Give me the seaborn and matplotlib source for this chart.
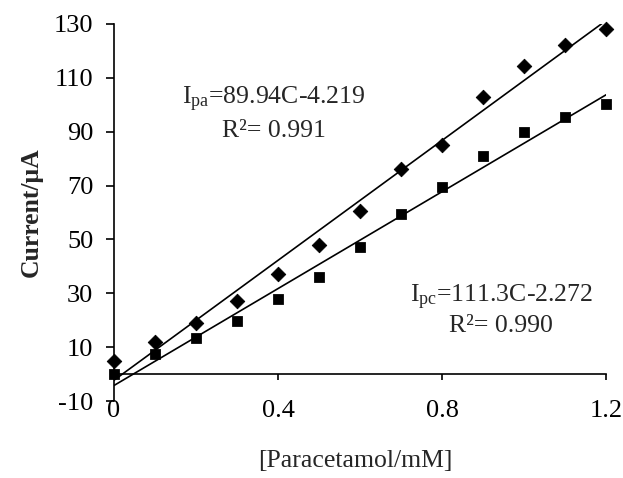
import numpy as np
import matplotlib
matplotlib.use("Agg")
import matplotlib.pyplot as plt
import seaborn as sns

# data
conc = [0.0, 0.1, 0.2, 0.3, 0.4, 0.5, 0.6, 0.7, 0.8, 0.9, 1.0, 1.1, 1.2]
i_diamond = [5.0, 12.0, 19.0, 27.0, 37.2, 48.0, 60.7, 76.1, 85.1, 102.7, 114.2, 122.3, 128.1]
i_square = [0.0, 7.4, 13.3, 19.8, 27.9, 36.2, 47.1, 59.4, 69.4, 80.8, 89.7, 95.4, 100.3]

# linear fits (slope, intercept) as printed on the chart
fit_upper = [111.3, -2.272]
fit_lower = [89.94, -4.219]
fit_x = [0.0, 1.2]

label_upper = r"I$_{\mathrm{pa}}$=89.94C-4.219"
r2_upper = "R²= 0.991"
label_lower = r"I$_{\mathrm{pc}}$=111.3C-2.272"
r2_lower = "R²= 0.990"

sns.set_theme(style="ticks")
plt.rcParams["font.family"] = ["Liberation Serif", "DejaVu Serif"]
plt.rcParams["mathtext.fontset"] = "custom"
plt.rcParams["mathtext.rm"] = "Liberation Serif"
plt.rcParams["mathtext.it"] = "Liberation Serif:italic"
plt.rcParams["axes.unicode_minus"] = False

fs = 18.5

fig = plt.figure(figsize=(6.23, 4.78), dpi=100)
ax = fig.add_axes([0.183, 0.161, 0.79, 0.789])

fx = np.array(fit_x)
sns.lineplot(x=fx, y=fit_upper[0] * fx + fit_upper[1], color="black",
             linewidth=1.2, ax=ax, legend=False)
sns.lineplot(x=fx, y=fit_lower[0] * fx + fit_lower[1], color="black",
             linewidth=1.2, ax=ax, legend=False)

sns.scatterplot(x=conc, y=i_diamond, marker="D", s=55, color="black",
                edgecolor="black", ax=ax, clip_on=False, zorder=3)
sns.scatterplot(x=conc, y=i_square, marker="s", s=50, color="black",
                edgecolor="black", ax=ax, clip_on=False, zorder=3)

ax.set_xlim(0, 1.2)
ax.set_ylim(-10, 130)
ax.set_xticks([0, 0.4, 0.8, 1.2])
ax.set_xticklabels(["0", "0.4", "0.8", "1.2"])
ax.set_yticks(np.arange(-10, 131, 20))

ax.spines["top"].set_visible(False)
ax.spines["right"].set_visible(False)
ax.spines["bottom"].set_position(("data", 0))
for sp in ["left", "bottom"]:
    ax.spines[sp].set_linewidth(1.2)
    ax.spines[sp].set_color("black")

ax.tick_params(axis="x", direction="out", length=4, width=1.2, pad=15,
               labelsize=19, colors="black")
ax.tick_params(axis="y", direction="out", length=6, width=1.2, pad=9,
               labelsize=19, colors="black")

ax.set_xlabel("[Paracetamol/mM]", fontsize=fs)
ax.xaxis.set_label_coords(0.49, -0.13)
ax.set_ylabel("Current/μA", fontsize=fs, fontweight="bold")
ax.yaxis.set_label_coords(-0.145, 0.5)

ax.text(0.39, 100, label_upper, ha="center", va="baseline", fontsize=fs)
ax.text(0.39, 88, r2_upper, ha="center", va="baseline", fontsize=fs)
ax.text(0.944, 26.8, label_lower, ha="center", va="baseline", fontsize=fs)
ax.text(0.944, 15.6, r2_lower, ha="center", va="baseline", fontsize=fs)

fig.savefig("out.png", dpi=100)
